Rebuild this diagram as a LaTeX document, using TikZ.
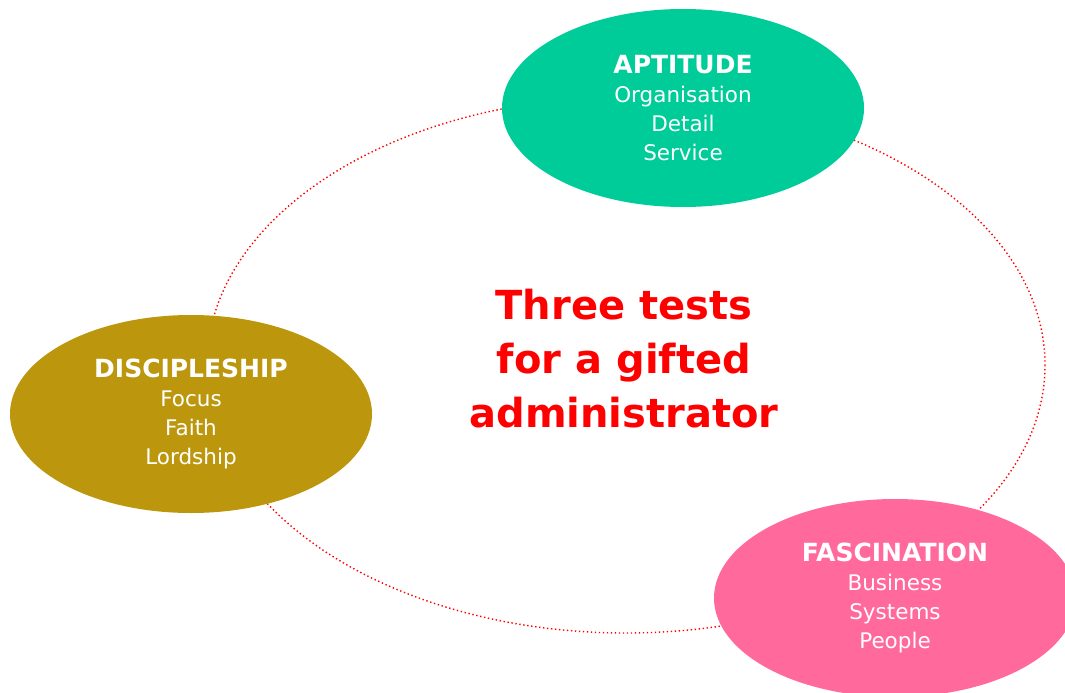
\documentclass[tikz,border=0pt]{standalone}
\usepackage{fontspec}
\setmainfont{DejaVu Sans}
\usetikzlibrary{shapes.geometric}
\definecolor{aptgreen}{RGB}{0,204,153}
\definecolor{discgold}{RGB}{188,151,13}
\definecolor{fascpink}{RGB}{255,105,155}
\tikzset{
    test/.style={ellipse,inner sep=0pt,minimum width=362pt,minimum height=198pt,
        text=white,align=center,font=\fontsize{21.5}{29}\selectfont},
}
\newcommand{\testhead}[1]{{\fontsize{25}{29}\selectfont\bfseries #1}}
\begin{document}
\begin{tikzpicture}[x=1pt,y=-1pt]
        \useasboundingbox (0,0) rectangle (1065,693);
        \coordinate (ring) at (626,365);
        \draw[red,line width=1.4pt,dash pattern=on 1.4pt off 2.6pt] (ring) ellipse (419 and 268);
        \node[test,fill=aptgreen] (aptitude) at (683,108)
            {\testhead{APTITUDE}\\Organisation\\Detail\\Service};
        \node[test,fill=discgold] (discipleship) at (191,414)
            {\testhead{DISCIPLESHIP}\\Focus\\Faith\\Lordship};
        \node[test,fill=fascpink] (fascination) at (895,598)
            {\testhead{FASCINATION}\\Business\\Systems\\People};
        \node[text=red,align=center,font=\fontsize{40}{54}\selectfont\bfseries] (title) at (624,359)
            {Three tests\\for a gifted\\administrator};
    \end{tikzpicture}
\end{document}
